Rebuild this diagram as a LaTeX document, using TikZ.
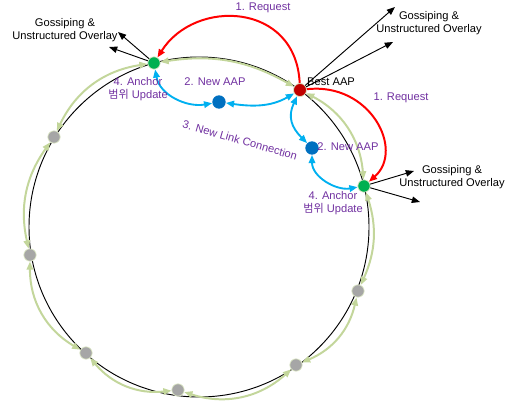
\documentclass[tikz,border=0pt]{standalone}
\usepackage{fontspec}
\setmainfont{Liberation Sans}
\newfontfamily\krfont{Noto Sans CJK KR}
\usepackage{tikz}
\usetikzlibrary{arrows.meta,positioning}
\definecolor{bestred}{HTML}{C00000}
\definecolor{linkblue}{HTML}{00B0F0}
\definecolor{aapblue}{HTML}{0070C0}
\definecolor{anchorgreen}{HTML}{00B050}
\definecolor{peergray}{HTML}{A6A6A6}
\definecolor{ringolive}{HTML}{C3D69B}
\definecolor{labelpurple}{HTML}{7030A0}
\tikzstyle{peer}=[circle, fill=peergray, draw=ringolive!60, line width=0.6pt, minimum size=0.37cm, inner sep=0pt]
\tikzstyle{anchorpeer}=[peer, fill=anchorgreen]
\tikzstyle{bestaap}=[peer, fill=bestred, minimum size=0.39cm]
\tikzstyle{newaap}=[circle, fill=aapblue, minimum size=0.4cm, inner sep=0pt]
\tikzstyle{ringline}=[black, line width=0.8pt]
\tikzstyle{link}=[<->, draw=ringolive, line width=1.7pt]
\tikzstyle{request}=[->, draw=red, line width=1.7pt]
\tikzstyle{newlink}=[<->, draw=linkblue, line width=1.6pt]
\tikzstyle{gossip}=[->, black, line width=0.8pt]
\tikzstyle{note}=[text=black, font=\fontsize{9.5}{11.1}\selectfont, align=center, inner sep=0pt]
\tikzstyle{lbl}=[note, text=labelpurple]

\begin{document}
\begin{tikzpicture}[x=0.03cm, y=0.03cm, >={Triangle[length=7pt,width=5.5pt]}]
\useasboundingbox (0,0) rectangle (512,-403);
%Ring
\coordinate (hub) at (199,-227);
\draw[ringline] (hub) circle (170);

%Peers on the ring
\node[anchorpeer] (a1) at (154,-63){};
\node[bestaap] (best) at (300,-90){};
\node[anchorpeer] (a2) at (364,-186){};
\node[peer] (p1) at (358,-291){};
\node[peer] (p2) at (296,-365){};
\node[peer] (p3) at (178,-390){};
\node[peer] (p4) at (86,-353){};
\node[peer] (p5) at (30,-255){};
\node[peer] (p6) at (54,-137){};
\node[newaap] (n1) at (219,-102){};
\node[newaap] (n2) at (312,-148){};

%Ring links
\draw[link] (a1) to[bend left=19] (best);
\draw[link] (best) to[bend left=29] (a2);
\draw[link] (a2) to[bend left=21] (p1);
\draw[link] (p1) to[bend left=27] (p2);
\draw[link] (p2) to[bend left=30] (p3);
\draw[link] (p3) to[bend left=28] (p4);
\draw[link] (p4) to[bend left=30] (p5);
\draw[link] (p5) to[bend left=24] (p6);
\draw[link] (p6) to[bend left=28] (a1);

%Gossiping
\coordinate (g1a) at (118,-32);
\coordinate (g1b) at (109,-47);
\coordinate (g2a) at (395,-7);
\coordinate (g2b) at (393,-42);
\coordinate (g3a) at (414,-171);
\coordinate (g3b) at (420,-202);
\draw[gossip] (a1) -- (g1a);
\draw[gossip] (a1) -- (g1b);
\draw[gossip] (best) -- (g2a);
\draw[gossip] (best) -- (g2b);
\draw[gossip] (a2) -- (g3a);
\draw[gossip] (a2) -- (g3b);
\node[note] (go1) at (65,-30){Gossiping \&\\Unstructured Overlay};
\node[note] (go2) at (429,-23){Gossiping \&\\Unstructured Overlay};
\node[note] (go3) at (452,-177){Gossiping \&\\Unstructured Overlay};
\node[note, anchor=west] (bestlbl) at (307,-82){Best AAP};

%Requests
\draw[request] (best) .. controls (296,-2) and (195,2) .. (a1);
\draw[request] (best) .. controls (370,-82) and (405,-150) .. (a2);
\node[lbl] (req1) at (263,-8){1. Request};
\node[lbl] (req2) at (401,-98){1. Request};

%New links
\draw[newlink] (a1) to[out=-80, in=190] (n1);
\draw[newlink] (n1) to[out=-8, in=-150] (best);
\draw[newlink] (best) to[out=-115, in=135, looseness=1.2] (n2);
\draw[newlink] (n2) to[out=-90, in=190] (a2);
\node[lbl] (aap1) at (215,-82){2. New AAP};
\node[lbl] (aap2) at (348,-147){2. New AAP};
\node[lbl, rotate=-16] (conn) at (240,-140){3. New Link Connection};
\node[lbl] (upd1) at (138,-89){4. Anchor\\{\krfont 범위} Update};
\node[lbl] (upd2) at (333,-203){4. Anchor\\{\krfont 범위} Update};
\end{tikzpicture}
\end{document}
